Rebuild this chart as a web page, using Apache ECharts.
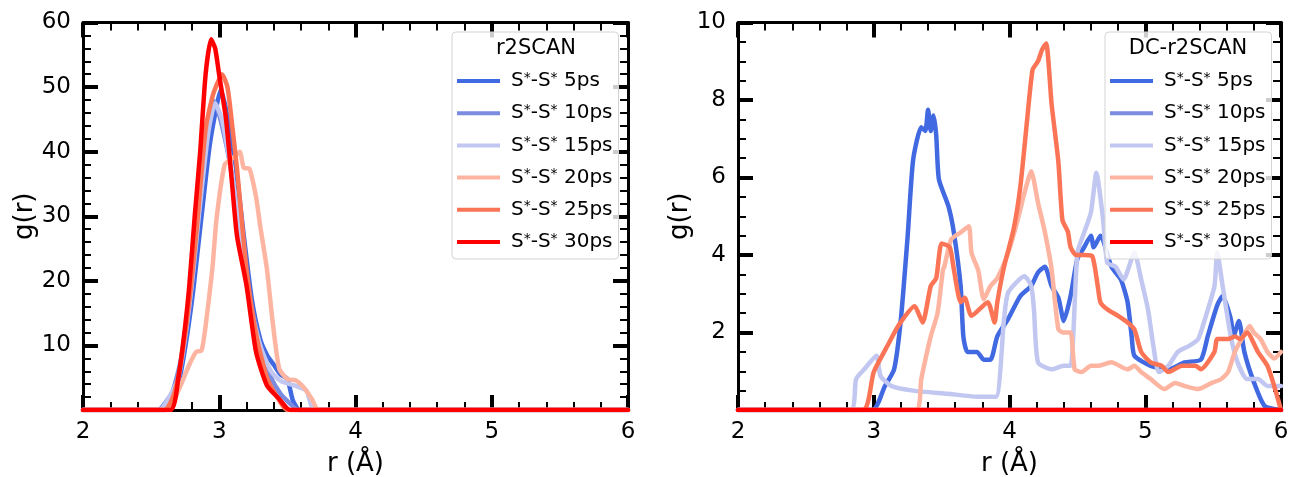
<!DOCTYPE html>
<html>
<head>
<meta charset="utf-8">
<script src="https://cdn.jsdelivr.net/npm/echarts@6/dist/echarts.min.js"></script>
<style>
  html, body { margin: 0; padding: 0; background: #fff; }
  #chart { width: 1292px; height: 477px; }
</style>
</head>
<body>
<div id="chart"></div>
<script>
// series names, shared by both panels
const names = ['S*-S* 5ps', 'S*-S* 10ps', 'S*-S* 15ps', 'S*-S* 20ps', 'S*-S* 25ps', 'S*-S* 30ps']
const colors = ['#4169e1', '#7a8be0', '#c1c7f0', '#fdb5a1', '#fb7456', '#ff0000']
const xTicks = [2, 3, 4, 5, 6]

// r2SCAN panel, [r, g(r)]
const left5 = [[2, 0], [2.6, 0], [2.66, 1.5], [2.72, 6], [2.8, 17], [2.87, 30], [2.93, 41], [2.98, 47], [3.01, 49.5], [3.04, 47.5], [3.08, 43], [3.12, 38], [3.18, 27], [3.24, 17], [3.3, 11], [3.35, 8.5], [3.4, 7], [3.45, 5.5], [3.5, 4.8], [3.54, 1.5], [3.59, 0], [6, 0]]
const left10 = [[2, 0], [2.55, 0], [2.6, 1], [2.66, 3], [2.72, 8], [2.8, 20], [2.87, 35], [2.92, 45], [2.95, 48], [2.98, 47], [3.02, 44], [3.08, 38], [3.15, 28], [3.22, 18], [3.3, 10], [3.38, 5], [3.45, 2.5], [3.52, 1], [3.58, 0], [6, 0]]
const left15 = [[2, 0], [2.56, 0], [2.62, 1.5], [2.7, 5], [2.78, 16], [2.86, 32], [2.92, 43], [2.97, 47.5], [3.02, 45], [3.08, 38], [3.15, 28], [3.22, 17], [3.3, 10], [3.38, 6], [3.45, 4.5], [3.55, 3.8], [3.64, 3], [3.7, 0], [6, 0]]
const left20 = [[2, 0], [2.62, 0], [2.7, 3], [2.78, 7], [2.83, 9], [2.87, 9.2], [2.9, 13], [2.95, 22], [2.98, 29.6], [3.04, 38], [3.1, 39], [3.15, 40], [3.18, 37.5], [3.22, 37.4], [3.27, 33], [3.3, 28.6], [3.35, 21.8], [3.39, 14], [3.44, 6.4], [3.5, 4.8], [3.56, 4.6], [3.62, 3.5], [3.68, 1.7], [3.73, 0], [6, 0]]
const left25 = [[2, 0], [2.6, 0], [2.66, 2], [2.71, 6.3], [2.77, 15], [2.83, 27], [2.9, 43.5], [2.95, 48.5], [2.98, 50.3], [3.02, 52], [3.06, 50], [3.09, 45], [3.13, 37.4], [3.2, 21.8], [3.27, 11.8], [3.35, 5], [3.44, 1.5], [3.5, 0], [6, 0]]
const left30 = [[2, 0], [2.64, 0], [2.7, 5], [2.75, 13], [2.78, 19.2], [2.82, 30], [2.86, 40], [2.9, 52], [2.94, 57.4], [2.97, 56], [3.0, 51.8], [3.05, 45], [3.09, 36], [3.13, 27], [3.2, 19.3], [3.27, 9], [3.35, 3.8], [3.44, 1.7], [3.49, 0.4], [3.52, 0], [6, 0]]

// DC-r2SCAN panel, [r, g(r)]
const right5 = [[2, 0], [2.99, 0], [3.08, 0.6], [3.15, 1.05], [3.2, 2.35], [3.25, 4.5], [3.29, 6.45], [3.35, 7.3], [3.38, 7.2], [3.4, 7.75], [3.42, 7.2], [3.44, 7.6], [3.46, 7.1], [3.48, 5.95], [3.55, 5.26], [3.59, 4.58], [3.64, 3.2], [3.66, 1.9], [3.69, 1.5], [3.76, 1.5], [3.81, 1.3], [3.86, 1.3], [3.91, 1.9], [3.99, 2.35], [4.08, 2.94], [4.16, 3.2], [4.21, 3.55], [4.26, 3.7], [4.31, 3.2], [4.36, 2.9], [4.4, 2.3], [4.45, 2.94], [4.5, 3.9], [4.55, 4.2], [4.6, 4.5], [4.62, 4.2], [4.67, 4.5], [4.75, 3.7], [4.82, 3.37], [4.87, 2.78], [4.9, 1.9], [4.92, 1.4], [5.04, 1.14], [5.17, 1.05], [5.29, 1.23], [5.41, 1.3], [5.46, 1.9], [5.53, 2.7], [5.57, 2.94], [5.63, 2.35], [5.65, 1.9], [5.69, 2.3], [5.73, 1.5], [5.8, 0.72], [5.88, 0.1], [6, 0]]
const right10 = [[2, 0], [6, 0]]
const right15 = [[2, 0], [2.83, 0], [2.87, 0.8], [2.93, 1.05], [3.02, 1.4], [3.05, 0.88], [3.13, 0.62], [3.29, 0.5], [3.54, 0.42], [3.78, 0.34], [3.9, 0.34], [3.96, 2.35], [3.99, 3.03], [4.11, 3.45], [4.16, 3.2], [4.18, 2.6], [4.21, 1.23], [4.31, 1.05], [4.4, 1.14], [4.45, 1.14], [4.5, 4.06], [4.55, 4.58], [4.6, 5.1], [4.64, 6.12], [4.69, 4.9], [4.72, 3.8], [4.78, 3.7], [4.84, 3.37], [4.92, 4.06], [4.97, 3.37], [5.02, 2.6], [5.06, 1.65], [5.1, 0.98], [5.17, 1.14], [5.24, 1.5], [5.32, 1.65], [5.39, 1.83], [5.44, 2.35], [5.51, 3.2], [5.53, 4.06], [5.57, 3.2], [5.63, 1.9], [5.68, 1.23], [5.75, 0.8], [5.83, 0.8], [5.9, 0.62], [6, 0.62]]
const right20 = [[2, 0], [3.31, 0], [3.35, 0.8], [3.42, 1.9], [3.47, 2.5], [3.51, 3.63], [3.52, 3.7], [3.57, 4.4], [3.64, 4.58], [3.7, 4.74], [3.72, 4.06], [3.77, 3.6], [3.81, 2.86], [3.86, 3.2], [3.91, 3.4], [3.99, 4.06], [4.06, 4.9], [4.11, 5.6], [4.16, 6.16], [4.21, 5.35], [4.26, 4.6], [4.31, 3.63], [4.36, 2.08], [4.4, 2.0], [4.45, 2.0], [4.48, 1.05], [4.53, 0.98], [4.6, 1.14], [4.65, 1.14], [4.75, 1.23], [4.87, 1.05], [4.92, 1.14], [4.97, 0.98], [5.04, 0.8], [5.14, 0.54], [5.22, 0.7], [5.29, 0.62], [5.39, 0.54], [5.49, 0.7], [5.56, 0.8], [5.61, 0.98], [5.66, 1.5], [5.71, 1.83], [5.77, 2.17], [5.8, 2.0], [5.85, 1.83], [5.9, 1.5], [5.95, 1.33], [6, 1.5]]
const right25 = [[2, 0], [2.92, 0], [3.0, 0.98], [3.1, 1.65], [3.18, 2.17], [3.3, 2.68], [3.36, 2.26], [3.42, 3.2], [3.46, 3.4], [3.5, 4.3], [3.56, 4.2], [3.59, 3.63], [3.64, 2.78], [3.67, 2.9], [3.72, 2.43], [3.84, 2.78], [3.89, 2.26], [3.91, 2.78], [3.96, 3.7], [4.03, 4.66], [4.08, 5.77], [4.13, 7.49], [4.17, 8.78], [4.21, 9.0], [4.24, 9.3], [4.27, 9.46], [4.31, 7.9], [4.36, 6.4], [4.39, 4.9], [4.43, 4.6], [4.45, 4.2], [4.49, 4.0], [4.55, 4.0], [4.61, 3.97], [4.65, 3.2], [4.67, 2.78], [4.72, 2.6], [4.8, 2.43], [4.87, 2.26], [4.92, 2.08], [4.97, 1.5], [5.04, 1.23], [5.12, 1.14], [5.17, 0.98], [5.27, 1.14], [5.37, 1.14], [5.41, 1.05], [5.51, 1.5], [5.53, 1.83], [5.61, 1.83], [5.66, 1.9], [5.7, 1.83], [5.75, 2.0], [5.83, 1.5], [5.9, 1.14], [5.95, 0.62], [6, 0]]
const right30 = [[2, 0], [6, 0]]

const leftData = [left5, left10, left15, left20, left25, left30]
const rightData = [right5, right10, right15, right20, right25, right30]

const FONT = 'DejaVu Sans'
const chart = echarts.init(document.getElementById('chart'))

// one frame = bottom/left axes with labels + top/right mirrors with ticks only
const xAxisFor = (gridIndex, position) => ({
  type: 'value',
  gridIndex,
  position,
  min: 2,
  max: 6,
  interval: 1,
  name: position === 'bottom' ? 'r (Å)' : '',
  nameLocation: 'middle',
  nameGap: 41,
  nameTextStyle: { fontFamily: FONT, fontSize: 26, color: '#000' },
  axisLine: { show: true, onZero: false, lineStyle: { color: '#000', width: 3 } },
  axisTick: { show: true, inside: true, length: 15, lineStyle: { color: '#000', width: 4 } },
  minorTick: { show: true, splitNumber: 5, length: 8, lineStyle: { color: '#000', width: 2 } },
  axisLabel: {
    show: position === 'bottom',
    margin: 11,
    fontFamily: FONT,
    fontSize: 23,
    color: '#000',
    formatter: v => (xTicks.includes(v) ? String(v) : '')
  },
  splitLine: { show: false }
})

const yAxisFor = (gridIndex, position, max, interval, minorSplit) => ({
  type: 'value',
  gridIndex,
  position,
  min: 0,
  max,
  interval,
  name: position === 'left' ? 'g(r)' : '',
  nameLocation: 'middle',
  nameGap: 40,
  nameTextStyle: { fontFamily: FONT, fontSize: 26, color: '#000' },
  axisLine: { show: true, onZero: false, lineStyle: { color: '#000', width: 3 } },
  axisTick: { show: true, inside: true, length: 15, lineStyle: { color: '#000', width: 4 } },
  minorTick: { show: true, splitNumber: minorSplit, length: 8, lineStyle: { color: '#000', width: 2 } },
  axisLabel: {
    show: position === 'left',
    showMinLabel: false,
    margin: 12,
    fontFamily: FONT,
    fontSize: 23,
    color: '#000'
  },
  splitLine: { show: false }
})

const lineSeries = (data, i, gridNo) => ({
  name: names[i],
  type: 'line',
  xAxisIndex: gridNo * 2,
  yAxisIndex: gridNo * 2,
  data,
  color: colors[i],
  symbol: 'none',
  smooth: 0.2,
  lineStyle: { width: 4.5, color: colors[i], join: 'round', cap: 'round' },
  z: 2 + i * 0.01
})

const legendFor = left => ({
  left,
  top: 32,
  orient: 'vertical',
  data: names,
  selectedMode: false,
  icon: 'rect',
  itemWidth: 43,
  itemHeight: 4,
  itemGap: 12.2,
  padding: [39, 6, 7, 5],
  backgroundColor: 'rgba(255,255,255,0.8)',
  borderColor: '#d4d4d4',
  borderWidth: 1,
  borderRadius: 4,
  formatter: n => {
    const tail = n.split(' ')[1]
    return '{a|S}{s|*}{a|-S}{s|*}{a| ' + tail + '}'
  },
  textStyle: {
    padding: [0, 0, 0, 6],
    rich: {
      a: { fontFamily: FONT, fontSize: 20, lineHeight: 20, color: '#000' },
      s: { fontFamily: FONT, fontSize: 14, lineHeight: 8, verticalAlign: 'top', color: '#000' }
    }
  }
})

const legendTitle = (x, text) => ({
  type: 'text',
  x,
  y: 49,
  z: 100,
  style: {
    text,
    font: '21px "DejaVu Sans"',
    fill: '#000',
    textAlign: 'center',
    textVerticalAlign: 'middle',
    align: 'center',
    verticalAlign: 'middle'
  }
})

const option = {
  animation: false,
  backgroundColor: '#fff',
  grid: [
    { left: 83, top: 22.5, width: 545, height: 387.5, containLabel: false, outerBoundsMode: 'none' },
    { left: 738, top: 22.5, width: 543, height: 387.5, containLabel: false, outerBoundsMode: 'none' }
  ],
  xAxis: [
    xAxisFor(0, 'bottom'),
    xAxisFor(0, 'top'),
    xAxisFor(1, 'bottom'),
    xAxisFor(1, 'top')
  ],
  yAxis: [
    yAxisFor(0, 'left', 60, 10, 5),
    yAxisFor(0, 'right', 60, 10, 5),
    yAxisFor(1, 'left', 10, 2, 4),
    yAxisFor(1, 'right', 10, 2, 4)
  ],
  legend: [legendFor(452), legendFor(1105)],
  graphic: [legendTitle(536, 'r2SCAN'), legendTitle(1188, 'DC-r2SCAN')],
  series: [
    ...leftData.map((d, i) => lineSeries(d, i, 0)),
    ...rightData.map((d, i) => lineSeries(d, i, 1))
  ]
}

chart.setOption(option)
</script>
</body>
</html>
